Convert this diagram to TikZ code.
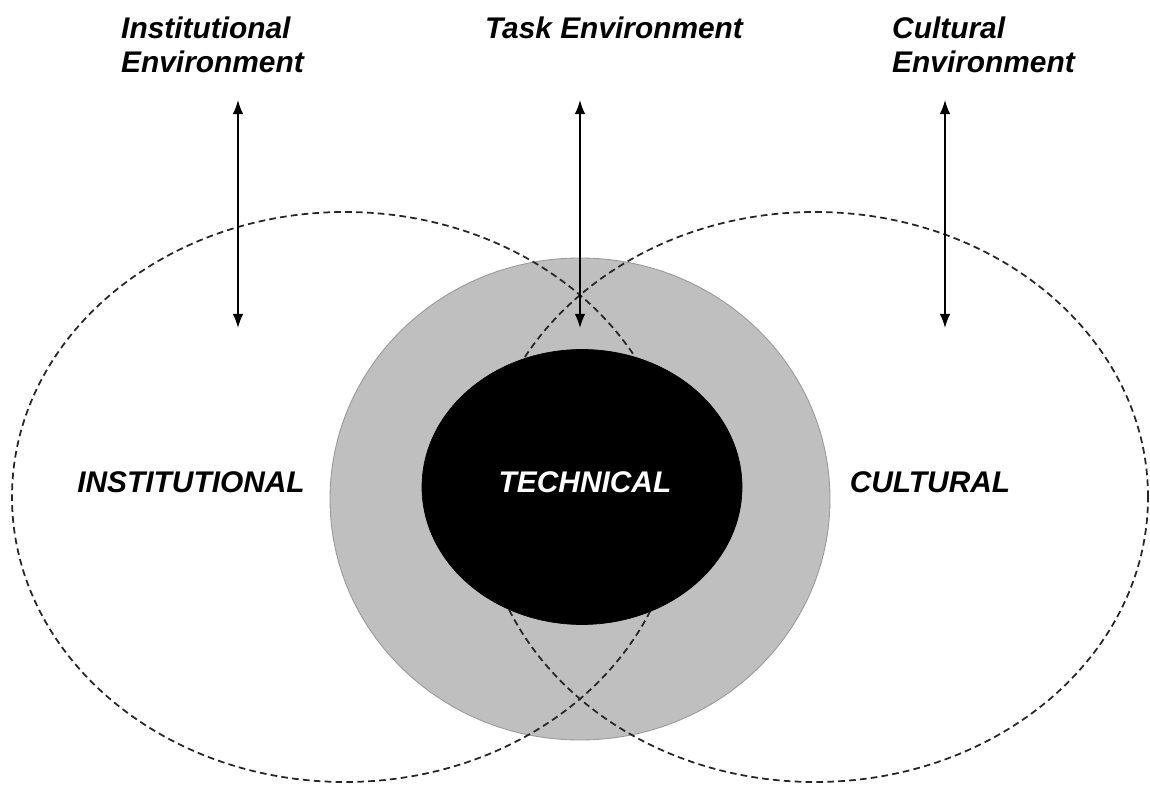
\documentclass[tikz,border=0pt]{standalone}
\usepackage{fontspec}
\setmainfont{Liberation Sans}
\usetikzlibrary{shapes.geometric,arrows.meta}
\newcommand{\envfield}[4][]{\node[ellipse,draw,inner sep=0pt,#1] at (#2) (#3) {#4}}

\begin{document}
\begin{tikzpicture}[
		lbl/.style={font=\fontsize{17}{19.4}\selectfont\bfseries\itshape},
		field/.style={dash pattern=on 3.8pt off 2.4pt,line width=1pt,draw=black!85,minimum width=13.32cm,minimum height=11.4cm},
		envarrow/.style={{Latex[length=8pt,width=6pt]}-{Latex[length=8pt,width=6pt]},line width=0.9pt}]
				\useasboundingbox (0,0) rectangle (23,15.7);

				\envfield[fill=black!25,draw=black!40,line width=0.5pt,minimum width=10cm,minimum height=9.64cm]{11.6,5.72}{task}{};
				\envfield[field]{6.9,5.76}{inst}{};
				\envfield[field]{16.3,5.76}{cult}{};
				\envfield[fill=black,minimum width=6.4cm,minimum height=5.5cm]{11.64,5.96}{tech}{};

				\node[lbl] at (3.82,6.06) (instname) {INSTITUTIONAL};
				\node[lbl,white] at (11.7,6.06) (techname) {TECHNICAL};
				\node[lbl] at (18.6,6.06) (cultname) {CULTURAL};

				\node[lbl,anchor=west,align=left] at (2.3,14.8) (instenv) {Institutional\\Environment};
				\node[lbl] at (12.28,15.14) (taskenv) {Task Environment};
				\node[lbl,anchor=west,align=left] at (17.72,14.8) (cultenv) {Cultural\\Environment};

				\coordinate (insttop) at (4.76,13.7);
				\coordinate (instbot) at (4.76,9.14);
				\coordinate (tasktop) at (11.6,13.7);
				\coordinate (taskbot) at (11.6,9.14);
				\coordinate (culttop) at (18.9,13.7);
				\coordinate (cultbot) at (18.9,9.14);

				\draw[envarrow] (insttop) -- (instbot);
				\draw[envarrow] (tasktop) -- (taskbot);
				\draw[envarrow] (culttop) -- (cultbot);
\end{tikzpicture}
\end{document}
